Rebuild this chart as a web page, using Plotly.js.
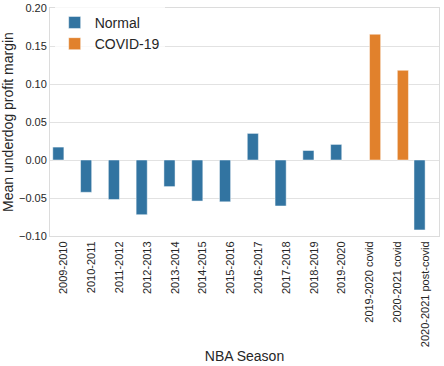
<!DOCTYPE html>
<html><head><meta charset="utf-8">
<script src="https://cdn.plot.ly/plotly-3.0.1.min.js"></script>
<style>body{margin:0;padding:0;background:#fff}#chart{width:444px;height:366px}</style>
</head><body><div id="chart"></div>
<script>
const categories = ["2009-2010","2010-2011","2011-2012","2012-2013","2013-2014","2014-2015","2015-2016","2016-2017","2017-2018","2018-2019","2019-2020","2019-2020 covid","2020-2021 covid","2020-2021 post-covid"];
const normalSeasons = ["2009-2010","2010-2011","2011-2012","2012-2013","2013-2014","2014-2015","2015-2016","2016-2017","2017-2018","2018-2019","2019-2020","2020-2021 post-covid"];
const normalValues = [0.017,-0.0425,-0.052,-0.072,-0.035,-0.054,-0.055,0.035,-0.0605,0.0125,0.0205,-0.092];
const covidSeasons = ["2019-2020 covid","2020-2021 covid"];
const covidValues = [0.1655,0.118];
const yTicks = [-0.10,-0.05,0.00,0.05,0.10,0.15,0.20];

const font = "Liberation Sans, Arial, sans-serif";
const traces = [
  {type:'bar', name:'Normal', x:normalSeasons, y:normalValues, width:0.4, offset:-0.4,
   marker:{color:'#3274a1', line:{color:'rgba(255,255,255,0.6)', width:0.8}}},
  {type:'bar', name:'COVID-19', x:covidSeasons, y:covidValues, width:0.4, offset:0,
   marker:{color:'#e1812c', line:{color:'rgba(255,255,255,0.6)', width:0.8}}}
];
const layout = {
  width:444, height:366,
  margin:{l:50, r:5, t:8, b:130},
  paper_bgcolor:'#fff', plot_bgcolor:'#fff',
  barmode:'overlay',
  showlegend:true,
  legend:{x:0.012, y:1.005, xanchor:'left', yanchor:'top', bgcolor:'rgba(255,255,255,0.8)',
          font:{family:font, size:14, color:'#262626'}, itemwidth:30, tracegroupgap:0},
  xaxis:{type:'category', categoryorder:'array', categoryarray:categories,
         range:[-0.5, categories.length-0.5],
         tickangle:-90, tickfont:{family:font, size:11, color:'#262626'},
         showgrid:false, ticks:'', showline:true, mirror:true, linecolor:'#dcdcdc', linewidth:1,
         title:{text:'NBA Season', font:{family:font, size:14, color:'#262626'}, standoff:5}},
  yaxis:{range:[-0.1,0.2], tickvals:yTicks, ticktext:yTicks.map(v=>(v<0?'\u2212':'')+Math.abs(v).toFixed(2)),
         tickfont:{family:font, size:11, color:'#262626'},
         showgrid:true, gridcolor:'#e2e2e2', gridwidth:1, zeroline:true, zerolinecolor:'#e2e2e2', zerolinewidth:1,
         ticks:'', showline:true, mirror:true, linecolor:'#dcdcdc', linewidth:1,
         title:{text:'Mean underdog profit margin', font:{family:font, size:14, color:'#262626'}, standoff:7}}
};
Plotly.newPlot('chart', traces, layout, {displayModeBar:false, staticPlot:true});
</script></body></html>
